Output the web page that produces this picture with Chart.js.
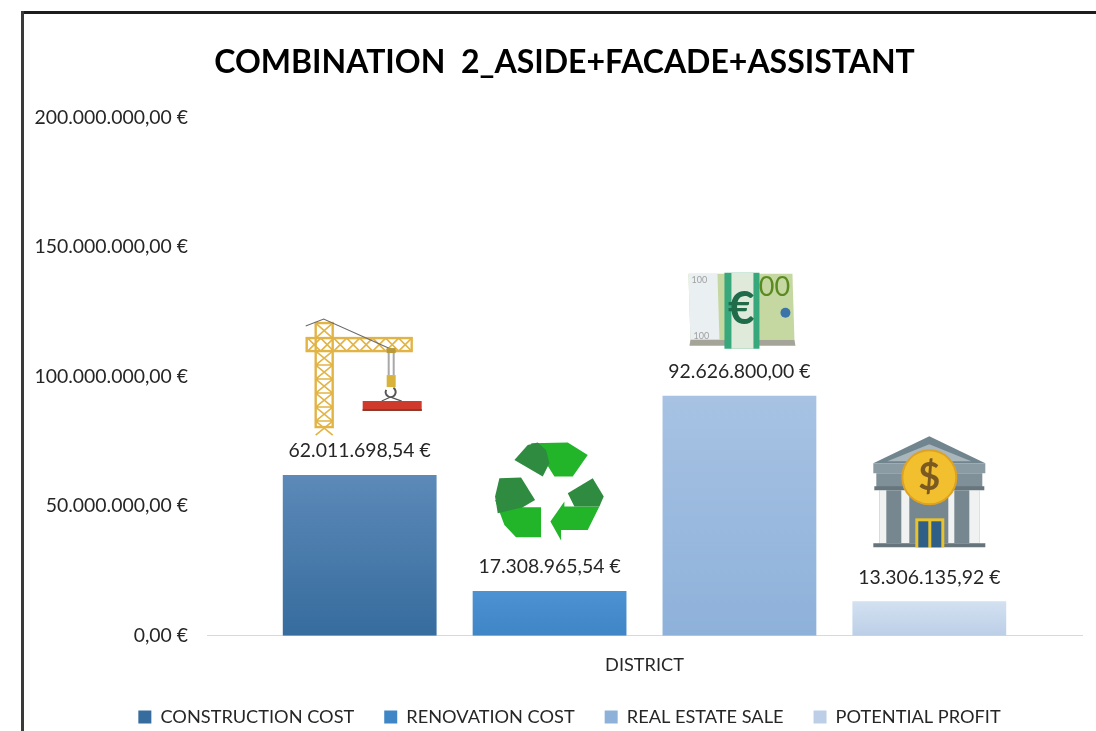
<!DOCTYPE html>
<html>
<head>
<meta charset="utf-8">
<title>Combination 2</title>
<script src="https://cdn.jsdelivr.net/npm/chart.js@4"></script>
<style>
  html, body { margin: 0; padding: 0; background: #fff; }
  #wrap { position: relative; width: 1096px; height: 731px; overflow: hidden; }
</style>
</head>
<body>
<div id="wrap"><canvas id="districtChart" width="1096" height="731"></canvas></div>
<script>
// ─── Data ─────────────────────────────────────────────────────
const categories = ['DISTRICT'];
const seriesNames = ['CONSTRUCTION COST', 'RENOVATION COST', 'REAL ESTATE SALE', 'POTENTIAL PROFIT'];
const constructionCost = [62011698.54];
const renovationCost = [17308965.54];
const realEstateSale = [92626800.00];
const potentialProfit = [13306135.92];
const yTicks = [0, 50000000, 100000000, 150000000, 200000000];

// top / bottom of each bar's gradient
const barGradients = [
  ['#5c89b8', '#366c9e'],
  ['#4d92d2', '#3f86c7'],
  ['#a7c2e3', '#8eb1da'],
  ['#d3e1f1', '#bccfe7'],
];
const FONT = "Lato, Carlito, 'Open Sans', sans-serif";

const euro = v => v.toLocaleString('de-DE', { minimumFractionDigits: 2, maximumFractionDigits: 2 }) + ' €';

function barFill(i) {
  return ctx => {
    const area = ctx.chart.chartArea;
    if (!area) return barGradients[i][1];
    const top = ctx.chart.scales.y.getPixelForValue(ctx.raw);
    const g = ctx.chart.ctx.createLinearGradient(0, top, 0, area.bottom);
    g.addColorStop(0, barGradients[i][0]);
    g.addColorStop(1, barGradients[i][1]);
    return g;
  };
}

// ─── Pictograms, drawn above the bars ─────────────────────────
function poly(c, pts, fill) {
  c.beginPath();
  pts.forEach((p, i) => i ? c.lineTo(p[0], p[1]) : c.moveTo(p[0], p[1]));
  c.closePath();
  c.fillStyle = fill;
  c.fill();
}

// origin: bar centre, bar top
function drawCrane(c) {
  c.strokeStyle = '#e2b445';
  c.lineWidth = 2.4;
  c.strokeRect(-44, -152, 17, 104);
  c.strokeRect(-53, -137, 105, 13);
  c.lineWidth = 1.6;
  c.beginPath();
  for (let y = -124; y < -50; y += 14) {
    c.moveTo(-44, y); c.lineTo(-27, y + 14);
    c.moveTo(-27, y); c.lineTo(-44, y + 14);
    c.moveTo(-44, y); c.lineTo(-27, y);
  }
  for (let x = -52; x < 44; x += 13) {
    c.moveTo(x, -137); c.lineTo(x + 13, -124);
    c.moveTo(x + 13, -137); c.lineTo(x, -124);
  }
  c.moveTo(-44, -152); c.lineTo(-27, -137);
  c.moveTo(-27, -152); c.lineTo(-44, -137);
  c.stroke();
  // cables
  c.strokeStyle = '#6b6b6b';
  c.lineWidth = 1.2;
  c.beginPath();
  c.moveTo(-54, -149); c.lineTo(-36, -156); c.lineTo(31, -126);
  c.stroke();
  poly(c, [[27, -127], [36, -127], [36, -122], [27, -122]], '#b89a3a');
  c.strokeStyle = '#a8a8a8';
  c.lineWidth = 2;
  c.beginPath();
  c.moveTo(29, -122); c.lineTo(29, -100);
  c.moveTo(34, -122); c.lineTo(34, -100);
  c.stroke();
  poly(c, [[27, -100], [36, -100], [36, -88], [27, -88]], '#d8b23a');
  c.strokeStyle = '#555';
  c.lineWidth = 2;
  c.beginPath();
  c.arc(31, -83, 5, -1, 3.6);
  c.stroke();
  c.lineWidth = 1.2;
  c.beginPath();
  c.moveTo(31, -78); c.lineTo(22, -74);
  c.moveTo(31, -78); c.lineTo(42, -74);
  c.stroke();
  // beam
  poly(c, [[3, -74], [62, -74], [62, -64], [3, -64]], '#cf3a2c');
  poly(c, [[3, -66], [62, -66], [62, -64], [3, -64]], '#8f3a2a');
}

// shapes traced in a 3x working grid
function drawRecycle(c) {
  c.save();
  c.translate(-278.5, -291);
  c.scale(1 / 3, 1 / 3);
  const light = '#22b52a';
  const dark = '#2f8b3f';
  poly(c, [[780, 430], [890, 428], [950, 465], [905, 530], [850, 530], [825, 490], [790, 450]], light);
  poly(c, [[730, 480], [770, 435], [800, 428], [825, 450], [835, 490], [815, 530]], dark);
  poly(c, [[985, 620], [950, 690], [870, 690], [870, 722], [838, 665], [880, 605], [880, 620]], light);
  poly(c, [[890, 580], [965, 535], [998, 590], [985, 620], [910, 620]], dark);
  poly(c, [[672, 600], [755, 622], [810, 622], [810, 712], [735, 712], [700, 675]], light);
  poly(c, [[685, 535], [750, 533], [792, 600], [755, 622], [680, 640], [672, 590]], dark);
  c.restore();
}

function drawMoney(c) {
  poly(c, [[-51, -122], [53, -122], [55, -56], [-49, -56]], '#c6d8a2');
  poly(c, [[-51, -122], [-22, -122], [-20, -56], [-49, -56]], '#eaf0f2');
  poly(c, [[-49, -56], [55, -56], [56, -50], [-50, -50]], '#a4a498');
  poly(c, [[-15, -123], [20, -123], [20, -47], [-15, -47]], '#36a87c');
  poly(c, [[-8, -123], [14, -123], [14, -47], [-8, -47]], '#dfeadb');
  c.textAlign = 'center';
  c.textBaseline = 'middle';
  c.fillStyle = '#1f6b4a';
  c.font = 'bold 46px ' + FONT;
  c.fillText('€', 2, -87);
  c.fillStyle = '#5a8a20';
  c.font = '27px ' + FONT;
  c.fillText('00', 35, -108);
  c.fillStyle = '#a0a0a0';
  c.font = '9px ' + FONT;
  c.fillText('100', -40, -116);
  c.fillText('100', -38, -60);
  c.beginPath();
  c.arc(46, -83, 5, 0, Math.PI * 2);
  c.fillStyle = '#3b74a8';
  c.fill();
}

function drawBank(c) {
  poly(c, [[0, -165], [56, -138], [-56, -138]], '#71858f');
  poly(c, [[0, -157], [42, -140], [-42, -140]], '#a9b6bc');
  poly(c, [[-56, -138], [56, -138], [56, -128], [-56, -128]], '#8b9ba3');
  poly(c, [[-53, -128], [53, -128], [53, -113], [-53, -113]], '#7f9099');
  poly(c, [[-55, -115], [55, -115], [55, -111], [-55, -111]], '#67767d');
  poly(c, [[-50, -111], [50, -111], [50, -58], [-50, -58]], '#76878f');
  [[-50, -43], [-28, -20], [19, 25], [40, 50]].forEach(s =>
    poly(c, [[s[0], -111], [s[1], -111], [s[1], -58], [s[0], -58]], '#f0f2f2'));
  poly(c, [[-56, -58], [56, -58], [56, -54], [-56, -54]], '#66757c');
  // door
  poly(c, [[-14, -83], [15, -83], [15, -54], [-14, -54]], '#e8c22f');
  poly(c, [[-11, -80], [-1, -80], [-1, -54], [-11, -54]], '#2f5f86');
  poly(c, [[2, -80], [12, -80], [12, -54], [2, -54]], '#2f5f86');
  // coin
  c.beginPath();
  c.arc(0, -124, 27, 0, Math.PI * 2);
  c.fillStyle = '#f2bf2e';
  c.fill();
  c.lineWidth = 2;
  c.strokeStyle = '#dca223';
  c.stroke();
  c.fillStyle = '#7b5a22';
  c.font = 'bold 38px ' + FONT;
  c.textAlign = 'center';
  c.textBaseline = 'middle';
  c.fillText('$', 0, -124);
}
const pictograms = [drawCrane, drawRecycle, drawMoney, drawBank];

// ─── Plugin: frame, value labels and pictograms ───────────────
const decorations = {
  id: 'decorations',
  afterLayout(chart) {
    chart.legend.left += 10; // legend sits a little right of the title
    chart.scales.y.left = 25; // tick labels are clipped to the scale box
  },
  beforeDraw(chart) {
    const c = chart.ctx;
    c.save();
    c.fillStyle = '#1c1c1c';
    c.fillRect(21, 11, 1075, 3);
    c.fillStyle = '#3a3a3a';
    c.fillRect(21, 11, 3, 720);
    c.restore();
  },
  afterDatasetsDraw(chart) {
    const c = chart.ctx;
    chart.data.datasets.forEach((ds, i) => {
      const bar = chart.getDatasetMeta(i).data[0];
      c.save();
      c.font = '19.4px ' + FONT;
      c.fillStyle = '#262626';
      c.textAlign = 'center';
      c.textBaseline = 'middle';
      c.fillText(euro(ds.data[0]), bar.x, bar.y - 24);
      c.translate(bar.x, bar.y);
      pictograms[i](c);
      c.restore();
    });
  },
};

// ─── Chart ────────────────────────────────────────────────────
new Chart(document.getElementById('districtChart').getContext('2d'), {
  type: 'bar',
  data: {
    labels: categories,
    datasets: [constructionCost, renovationCost, realEstateSale, potentialProfit].map((values, i) => ({
      label: seriesNames[i],
      data: values,
      backgroundColor: barFill(i),
      categoryPercentage: 0.868,
      barPercentage: 0.81,
    })),
  },
  options: {
    responsive: false,
    animation: false,
    layout: { padding: { left: 47, right: 14, top: 43, bottom: -5 } },
    plugins: {
      title: {
        display: true,
        text: 'COMBINATION  2_ASIDE+FACADE+ASSISTANT',
        color: '#000',
        font: { family: FONT, size: 32, weight: 'bold' },
        padding: { top: 0, bottom: 36 },
      },
      legend: {
        position: 'bottom',
        labels: {
          boxWidth: 13,
          boxHeight: 13,
          padding: 30,
          color: '#262626',
          font: { family: FONT, size: 18.2 },
          generateLabels: chart => chart.data.datasets.map((ds, i) => ({
            text: ds.label,
            fillStyle: barGradients[i][1],
            strokeStyle: barGradients[i][1],
            lineWidth: 0,
            datasetIndex: i,
            fontColor: '#262626',
          })),
        },
      },
      tooltip: { enabled: false },
    },
    scales: {
      x: {
        afterFit: s => { s.height = 42; },
        grid: { display: false, drawTicks: false },
        border: { color: '#d9d9d9', width: 1 },
        ticks: { color: '#262626', font: { family: FONT, size: 18.2 }, padding: 18 },
      },
      y: {
        min: 0,
        max: 200000000,
        afterFit: s => { s.width = 160; },
        afterBuildTicks: s => { s.ticks = yTicks.map(value => ({ value })); },
        grid: { display: false, drawTicks: false },
        border: { display: false },
        ticks: { color: '#262626', font: { family: FONT, size: 19.4 }, padding: 19, callback: v => euro(v) },
      },
    },
  },
  plugins: [decorations],
});
</script>
</body>
</html>
